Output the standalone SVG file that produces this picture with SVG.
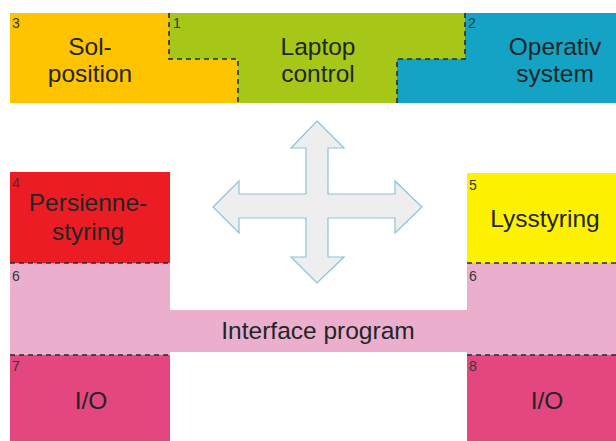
<svg xmlns="http://www.w3.org/2000/svg" width="616" height="441" viewBox="0 0 616 441">
<style>
.lbl{font-family:"Liberation Sans",Arial,sans-serif;font-size:24.5px;fill:#1e2626;text-anchor:middle}
.num{font-family:"Liberation Sans",Arial,sans-serif;font-size:14px;fill:#333a3a}
.dash{fill:none;stroke:#1e3030;stroke-width:1.6;stroke-dasharray:5,4}
</style>
<rect width="616" height="441" fill="#ffffff"/>
<g id="n3">
<polygon points="10,13 169,13 169,59 238,59 238,103 10,103" fill="#fec400"/>
<text class="num" x="12" y="28">3</text>
<text class="lbl" x="90" y="55">Sol-</text>
<text class="lbl" x="90" y="82">position</text>
</g>
<g id="n1">
<polygon points="169,13 465,13 465,59 397,59 397,103 238,103 238,59 169,59" fill="#a6c618"/>
<text class="num" x="173" y="28">1</text>
<text class="lbl" x="318" y="55">Laptop</text>
<text class="lbl" x="318" y="82">control</text>
</g>
<g id="n2">
<polygon points="465,13 616,13 616,103 397,103 397,59 465,59" fill="#14a3c5"/>
<text class="num" x="468" y="28">2</text>
<text class="lbl" x="555" y="55">Operativ</text>
<text class="lbl" x="555" y="82">system</text>
</g>
<g id="n4">
<rect x="10" y="172" width="160" height="91" fill="#ec1c24"/>
<text class="num" x="12" y="188">4</text>
<text class="lbl" x="88" y="211">Persienne-</text>
<text class="lbl" x="88" y="240">styring</text>
</g>
<g id="n5">
<rect x="467" y="173" width="149" height="90" fill="#fff200"/>
<text class="num" x="469" y="190">5</text>
<text class="lbl" x="545" y="227">Lysstyring</text>
</g>
<g id="n6">
<polygon points="10,263 170,263 170,310 467,310 467,263 616,263 616,355 467,355 467,352 170,352 170,355 10,355" fill="#ecaecd"/>
<text class="num" x="12" y="281">6</text>
<text class="num" x="469" y="281">6</text>
<text class="lbl" x="318" y="339">Interface program</text>
</g>
<g id="n7">
<rect x="10" y="355" width="160" height="86" fill="#e4467f"/>
<text class="num" x="12" y="371">7</text>
<text class="lbl" x="91" y="409">I/O</text>
</g>
<g id="n8">
<rect x="467" y="355" width="149" height="86" fill="#e4467f"/>
<text class="num" x="469" y="371">8</text>
<text class="lbl" x="547" y="409">I/O</text>
</g>
<g id="connectors">
<polyline class="dash" points="169,13 169,59 238,59 238,103"/>
<polyline class="dash" points="465,13 465,59 397,59 397,103"/>
<line class="dash" x1="10" y1="263" x2="170" y2="263"/>
<line class="dash" x1="467" y1="263" x2="616" y2="263"/>
<line class="dash" x1="10" y1="355" x2="170" y2="355"/>
<line class="dash" x1="467" y1="355" x2="616" y2="355"/>
<polygon points="317,121 344,148 328,148 328,194 395,194 395,181 422,207 395,233 395,218 328,218 328,257 344,257 317,283 291,257 306,257 306,218 239,218 239,233 213,207 239,181 239,194 306,194 306,148 291,148" fill="#eeeeee" stroke="#8cc3da" stroke-width="1.2"/>
</g>
</svg>
